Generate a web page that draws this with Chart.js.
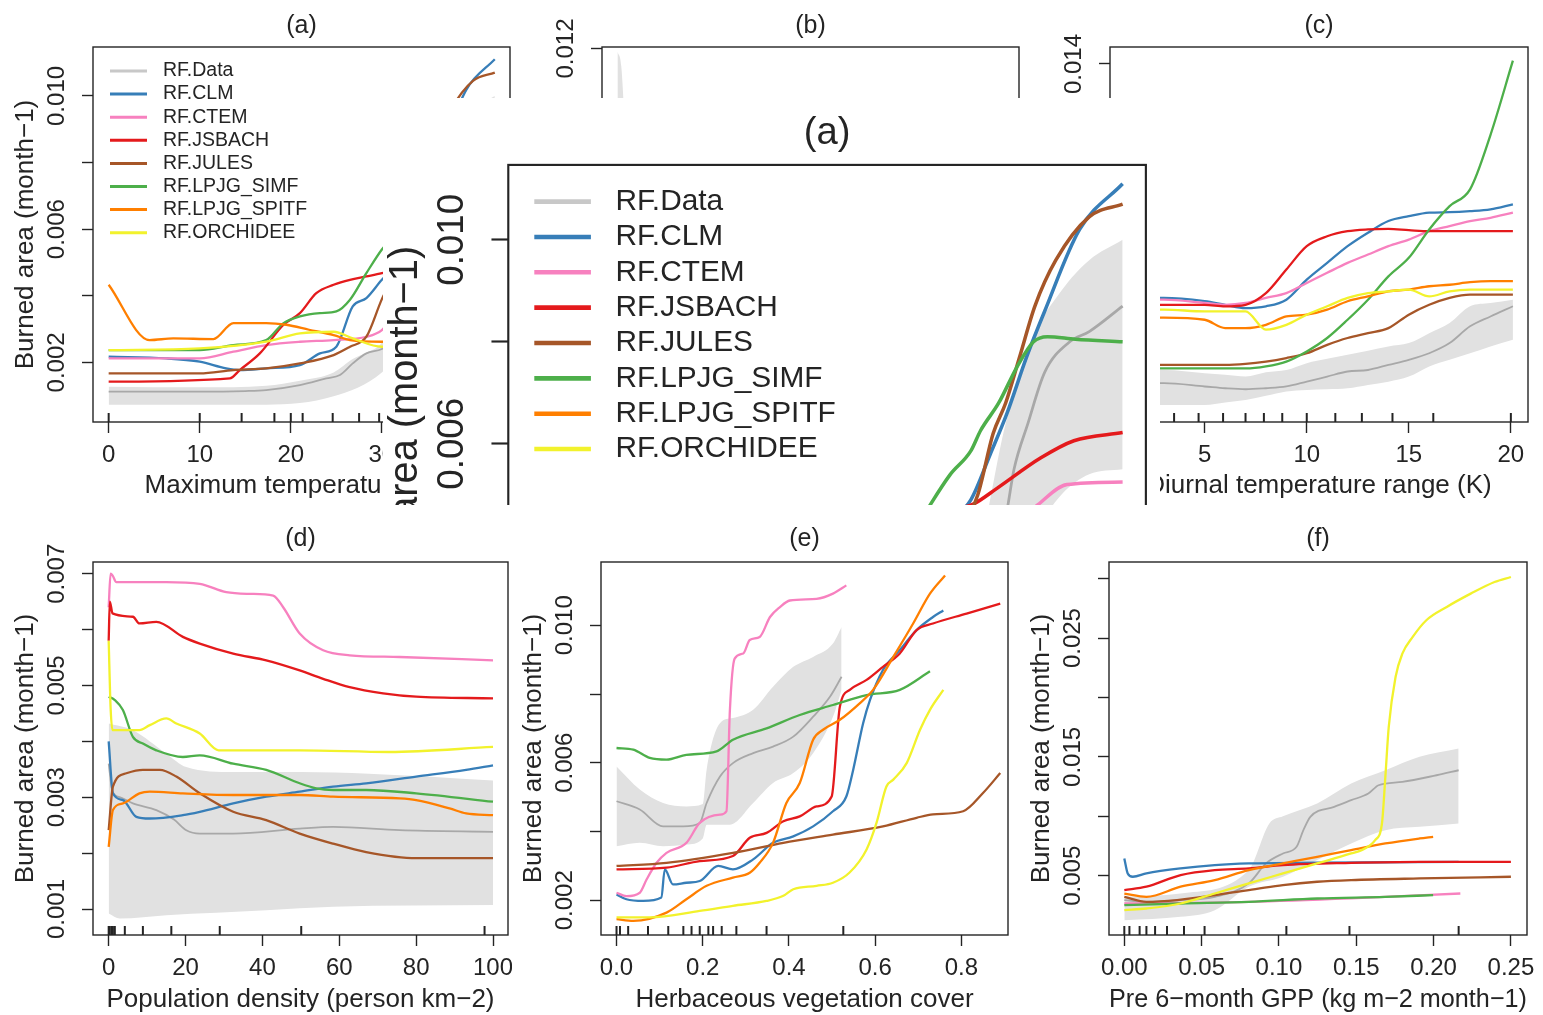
<!DOCTYPE html>
<html>
<head>
<meta charset="utf-8">
<title>Burned area partial dependence</title>
<script src="https://cdn.jsdelivr.net/npm/chart.js@4/dist/chart.umd.min.js"></script>
<style>
  html, body { margin: 0; padding: 0; background: #fff; overflow: hidden; }
  body { width: 1543px; height: 1015px; position: relative; }
  canvas { position: absolute; display: block; }
  #inset { position: absolute; left: 383px; top: 98px; width: 777px; height: 407px; overflow: hidden; background: #fff; }
</style>
</head>
<body>
<canvas id="pa" width="514" height="507" style="left:0px;top:0px"></canvas>
<canvas id="pb" width="514" height="507" style="left:509px;top:0px"></canvas>
<canvas id="pc" width="515" height="507" style="left:1017px;top:0px"></canvas>
<canvas id="pd" width="512" height="500" style="left:0px;top:515px"></canvas>
<canvas id="pe" width="504" height="500" style="left:508px;top:515px"></canvas>
<canvas id="pf" width="527" height="500" style="left:1016px;top:515px"></canvas>
<div id="inset"><canvas id="pz" width="786" height="776" style="left:-17px;top:-5px"></canvas></div>

<script>
// series names and colours, same order everywhere
const MODELS = ['RF.Data', 'RF.CLM', 'RF.CTEM', 'RF.JSBACH', 'RF.JULES', 'RF.LPJG_SIMF', 'RF.LPJG_SPITF', 'RF.ORCHIDEE'];
const COLORS = ['#a8a8a8', '#377eb8', '#f781bf', '#e41a1c', '#a65628', '#4daf4a', '#ff7f00', '#f2f22c'];
const LEGEND_COLORS = ['#c8c8c8', '#377eb8', '#f781bf', '#e41a1c', '#a65628', '#4daf4a', '#ff7f00', '#f2f22c'];
const BAND = '#e1e1e1';

// (a) maximum temperature  [x, burned area]
const aData     = [[0,0.00112],[10,0.00112],[15,0.00114],[17.3,0.00117],[21,0.00132],[23.9,0.00152],[25.4,0.00162],[26.8,0.00197],[28.3,0.00227],[30,0.0024],[32,0.0028],[33,0.0033],[34.1,0.0047],[34.6,0.0055],[35.6,0.0064],[36.8,0.0074],[38.6,0.008],[40,0.0082],[42.4,0.0087]];
const aBandHi   = [[0,0.00127],[10,0.00125],[17.3,0.0013],[21,0.00145],[24.7,0.0017],[26.8,0.0021],[28.3,0.0023],[30,0.0026],[32,0.0038],[34,0.0064],[35.8,0.008],[38,0.009],[40,0.0096],[42.4,0.01]];
const aBandLo   = [[0,0.00073],[17.3,0.00073],[24.7,0.00098],[30,0.0017],[34,0.003],[36,0.0042],[38,0.005],[40,0.0054],[42.4,0.0055]];
const aCLM      = [[0,0.00217],[6.3,0.00212],[10,0.00202],[12.9,0.00182],[14.4,0.00177],[17.3,0.00182],[21,0.00192],[23.2,0.00227],[25,0.00247],[26.8,0.00368],[28.3,0.00393],[30,0.00448],[31.5,0.0049],[32.9,0.0058],[34.1,0.0066],[35.5,0.0077],[36.8,0.0086],[39.3,0.0102],[42.4,0.0111]];
const aCTEM     = [[0,0.00212],[10,0.00212],[13.7,0.00232],[17.3,0.00252],[21,0.00262],[24.7,0.00267],[28.3,0.00277],[30,0.00297],[33,0.004],[36.3,0.0048],[38.4,0.0052],[42.4,0.00525]];
const aJSBACH   = [[0,0.00142],[13.3,0.00152],[14.4,0.00177],[16.6,0.00227],[19.2,0.00313],[21,0.00348],[22.8,0.00408],[24.7,0.00433],[26.5,0.00448],[28.3,0.00458],[30,0.00468],[31.7,0.00482],[33.4,0.00513],[36.5,0.00572],[38.9,0.00606],[42.4,0.00622]];
const aJULES    = [[0,0.00167],[10,0.00167],[13.7,0.00177],[17.3,0.00182],[21,0.00197],[24.7,0.00222],[26.5,0.00247],[28.3,0.00277],[30,0.0039],[32,0.005],[33.1,0.0062],[34,0.0068],[35,0.0077],[36.1,0.0087],[37.6,0.0096],[40,0.01045],[42.4,0.0107]];
const aSIMF     = [[0,0.00237],[10,0.00237],[13.7,0.00252],[17.3,0.00267],[19.2,0.00318],[21,0.00338],[23.2,0.00348],[25,0.00353],[26.5,0.00388],[28.3,0.00468],[30,0.00539],[31.5,0.00586],[32.2,0.00626],[33.5,0.0068],[34.8,0.0075],[36,0.008],[37,0.0081],[39,0.00805],[42.4,0.008]];
const aSPITF    = [[0,0.00433],[4.5,0.00267],[7.1,0.00272],[11.5,0.0027],[13.7,0.00318],[17.3,0.00318],[19.5,0.00313],[22,0.00298],[24.7,0.00282],[26.5,0.00267],[30,0.00262],[34,0.0027],[38,0.0029],[42.4,0.003]];
const aORCHIDEE = [[0,0.00237],[10,0.00242],[17.3,0.00262],[21,0.00287],[24.7,0.00292],[26.8,0.00272],[30,0.00247],[35,0.0026],[42.4,0.0028]];
const aRug      = [0, 10, 14.6, 18.2, 20, 21.3, 24.6, 27.5, 29.7, 31.5, 33.5, 36.5, 42.4];

// (b) almost entirely hidden under the zoomed copy of (a)
const bData   = [[0,0.0095],[0.2,0.0085],[0.5,0.006],[1,0.0042],[2,0.0035],[5,0.003],[10,0.0028],[20,0.0026]];
const bBandHi = [[0,0.0119],[0.2,0.0114],[0.5,0.008],[1,0.0055],[2,0.0045],[5,0.004],[10,0.0038],[20,0.0036]];
const bBandLo = [[0,0.0055],[0.5,0.004],[1,0.0028],[5,0.0018],[20,0.0015]];
const bRug    = [0, 0.2, 0.5, 1, 2, 3.5, 5, 8, 12, 20];

// (c) diurnal temperature range, common grid
const cDTR      = [1.1, 3, 5, 6, 7, 8, 9, 10, 11, 12, 13, 14, 15, 16, 17, 18, 19, 20.1];
const cData     = [0.00142, 0.00142, 0.00129, 0.00122, 0.00118, 0.00122, 0.00129, 0.00148, 0.00168, 0.00188, 0.00194, 0.00214, 0.00234, 0.0026, 0.003, 0.00366, 0.00405, 0.00445];
const cBandHi   = [0.00194, 0.00194, 0.00181, 0.00175, 0.00168, 0.00185, 0.00194, 0.00221, 0.00238, 0.00254, 0.0027, 0.00287, 0.003, 0.00339, 0.00379, 0.00445, 0.00458, 0.00471];
const cBandLo   = [0.00056, 0.00056, 0.00056, 0.00066, 0.00076, 0.00092, 0.00109, 0.00115, 0.00118, 0.00122, 0.00135, 0.00148, 0.00168, 0.00208, 0.00234, 0.0026, 0.00287, 0.00313];
const cCLM      = [0.00478, 0.00478, 0.00465, 0.00451, 0.00438, 0.00445, 0.00471, 0.0055, 0.00616, 0.00682, 0.00735, 0.00781, 0.008, 0.00814, 0.00816, 0.0082, 0.00827, 0.00847];
const cCTEM     = [0.00471, 0.00471, 0.00458, 0.00451, 0.00458, 0.00478, 0.00497, 0.00537, 0.00577, 0.00616, 0.00649, 0.00682, 0.00708, 0.00741, 0.00761, 0.00781, 0.00794, 0.00814];
const cJSBACH   = [0.00451, 0.00451, 0.00451, 0.00445, 0.00451, 0.00497, 0.0059, 0.00682, 0.00721, 0.00741, 0.00748, 0.0075, 0.00745, 0.00741, 0.00741, 0.00741, 0.00741, 0.00741];
const cJULES    = [0.00214, 0.00214, 0.00214, 0.00214, 0.00218, 0.00227, 0.00241, 0.0026, 0.00293, 0.0032, 0.00339, 0.00359, 0.00412, 0.00451, 0.00478, 0.00491, 0.00491, 0.00491];
const cSIMF     = [0.002, 0.002, 0.002, 0.002, 0.002, 0.00208, 0.00227, 0.00267, 0.0032, 0.00392, 0.00471, 0.00563, 0.00636, 0.00748, 0.0084, 0.00906, 0.0112, 0.01413];
const cSPITF    = [0.004, 0.004, 0.00392, 0.00359, 0.00359, 0.00372, 0.00405, 0.00412, 0.00432, 0.00465, 0.00484, 0.00504, 0.00511, 0.00524, 0.0053, 0.0054, 0.00544, 0.00544];
const cORCHIDEE = [0.00432, 0.00432, 0.00425, 0.00425, 0.00425, 0.00353, 0.00372, 0.00412, 0.00445, 0.00478, 0.00497, 0.00504, 0.00511, 0.00484, 0.00504, 0.00511, 0.00511, 0.00511];
const cRug      = [1.1, 2.3, 3.5, 4.7, 5.9, 7.0, 7.9, 8.8, 10.0, 11.4, 12.7, 14.2, 16.2, 20.0];

// (d) population density
const dData     = [[0,0.0036],[1,0.0031],[3,0.003],[6.3,0.00289],[12.4,0.00277],[17,0.0026],[20.2,0.00241],[23.7,0.00235],[32.4,0.00235],[49.7,0.00244],[58.4,0.00247],[75.7,0.00241],[100,0.00238]];
const dBandHi   = [[0,0.00432],[6.3,0.0042],[15,0.00378],[20.2,0.00354],[32.4,0.00345],[50,0.00345],[67.7,0.00342],[100,0.0033]];
const dBandLo   = [[0,0.00092],[2.9,0.00083],[15,0.00089],[41,0.00098],[58.4,0.00104],[100,0.00107]];
const dCLM      = [[0,0.004],[1.1,0.00307],[3.7,0.00295],[7.2,0.00265],[10.7,0.00262],[19.3,0.00268],[23.7,0.00274],[32.4,0.00289],[41,0.00301],[49.7,0.0031],[58.4,0.00319],[67,0.00325],[80,0.00337],[93,0.00349],[100,0.00357]];
const dCTEM     = [[0,0.0064],[0.5,0.007],[1,0.00697],[2,0.00685],[15,0.00685],[23.7,0.00682],[30.6,0.00667],[36.7,0.00664],[42.8,0.00661],[45.4,0.0064],[49.7,0.00593],[55.8,0.00563],[62.7,0.00554],[75.7,0.00551],[100,0.00545]];
const dJSBACH   = [[0,0.0058],[0.3,0.0065],[1,0.00629],[6.3,0.00623],[8,0.00611],[12.4,0.00614],[19.3,0.00587],[23.7,0.00575],[32.4,0.00557],[41,0.00545],[49.7,0.00527],[55.8,0.00512],[62.7,0.00497],[71.4,0.00486],[80,0.0048],[100,0.00477]];
const dJULES    = [[0,0.00241],[1.1,0.00319],[4.6,0.00343],[8.9,0.00349],[13.3,0.00349],[17.6,0.00337],[23.7,0.00307],[32.4,0.00274],[41,0.00259],[49.7,0.00235],[58.4,0.00217],[67,0.00202],[80,0.00191],[100,0.00191]];
const dSIMF     = [[0,0.0048],[1.6,0.00474],[3.7,0.00456],[6.3,0.00408],[8.9,0.00396],[12.4,0.00384],[19.3,0.00372],[23.7,0.00375],[32.4,0.0036],[41,0.00349],[49.7,0.00325],[54,0.00316],[58.4,0.00313],[67,0.00313],[80,0.00307],[100,0.00292]];
const dSPITF    = [[0,0.00211],[1.1,0.00277],[3.7,0.00289],[8,0.00307],[10.7,0.0031],[19.3,0.00307],[32.4,0.00304],[49.7,0.00304],[58.4,0.00301],[75.7,0.00298],[80,0.00295],[88.7,0.0028],[93,0.00271],[100,0.00268]];
const dORCHIDEE = [[0,0.0058],[0.5,0.0046],[1,0.0042],[3,0.0042],[8,0.0042],[10.7,0.00429],[15,0.00441],[17.6,0.00432],[23.7,0.00414],[28.6,0.00384],[32.4,0.00384],[49.7,0.00384],[73,0.00381],[100,0.0039]];
const dRug      = [0, 0.26, 0.7, 1.1, 1.6, 4.2, 8.9, 16.3, 28.9, 50.1, 97.8];

// (e) herbaceous vegetation cover
const eData     = [[0,0.00488],[0.054,0.00464],[0.108,0.00415],[0.155,0.00415],[0.193,0.00425],[0.209,0.00483],[0.24,0.0056],[0.27,0.00599],[0.317,0.00628],[0.363,0.00647],[0.41,0.00676],[0.456,0.00734],[0.495,0.00792],[0.522,0.0085]];
const eBandHi   = [[0,0.00589],[0.054,0.00522],[0.108,0.00483],[0.162,0.00473],[0.2,0.0048],[0.209,0.0058],[0.24,0.00715],[0.27,0.0073],[0.317,0.00754],[0.363,0.00821],[0.41,0.00879],[0.456,0.00908],[0.502,0.00947],[0.522,0.00995]];
const eBandLo   = [[0,0.00357],[0.054,0.00367],[0.108,0.00357],[0.162,0.00362],[0.2,0.0038],[0.209,0.0042],[0.263,0.0042],[0.317,0.00483],[0.363,0.00541],[0.41,0.0057],[0.456,0.00628],[0.502,0.00734],[0.522,0.00812]];
const eCLM      = [[0,0.00217],[0.023,0.00203],[0.062,0.00198],[0.104,0.00208],[0.112,0.0029],[0.131,0.00246],[0.162,0.00251],[0.193,0.00256],[0.236,0.003],[0.27,0.0029],[0.317,0.00319],[0.363,0.00367],[0.41,0.00386],[0.456,0.00415],[0.502,0.00459],[0.533,0.00502],[0.549,0.0058],[0.572,0.00715],[0.588,0.00783],[0.618,0.0087],[0.657,0.00928],[0.696,0.00986],[0.734,0.01024],[0.758,0.01043]];
const eCTEM     = [[0,0.00222],[0.023,0.00212],[0.054,0.00222],[0.07,0.00261],[0.093,0.00309],[0.116,0.00338],[0.162,0.00367],[0.193,0.00425],[0.24,0.00449],[0.255,0.00459],[0.263,0.00754],[0.274,0.00903],[0.294,0.00918],[0.309,0.00957],[0.332,0.00966],[0.356,0.01024],[0.379,0.01053],[0.402,0.01072],[0.464,0.01077],[0.502,0.01092],[0.533,0.01116]];
const eJSBACH   = [[0,0.0029],[0.116,0.00295],[0.193,0.00314],[0.27,0.00329],[0.309,0.00382],[0.348,0.00396],[0.387,0.0043],[0.425,0.00444],[0.464,0.00473],[0.499,0.00502],[0.518,0.00763],[0.541,0.00812],[0.58,0.00841],[0.618,0.00879],[0.657,0.00918],[0.696,0.00986],[0.734,0.01005],[0.812,0.01034],[0.89,0.01063]];
const eJULES    = [[0,0.003],[0.116,0.00309],[0.27,0.00338],[0.387,0.00367],[0.502,0.00391],[0.618,0.00415],[0.696,0.0044],[0.734,0.0045],[0.804,0.00459],[0.85,0.00512],[0.89,0.0057]];
const eSIMF     = [[0,0.00643],[0.039,0.00638],[0.077,0.00614],[0.116,0.00609],[0.162,0.00623],[0.232,0.00633],[0.27,0.00667],[0.348,0.007],[0.425,0.00739],[0.502,0.00768],[0.58,0.00797],[0.657,0.00812],[0.727,0.00866]];
const eSPITF    = [[0,0.00145],[0.039,0.0014],[0.116,0.00164],[0.162,0.00203],[0.209,0.00242],[0.27,0.00266],[0.309,0.0028],[0.332,0.00309],[0.363,0.00367],[0.394,0.00483],[0.425,0.00541],[0.456,0.00667],[0.479,0.00696],[0.518,0.00725],[0.564,0.00773],[0.595,0.00812],[0.642,0.00908],[0.688,0.01005],[0.727,0.01092],[0.762,0.01145]];
const eORCHIDEE = [[0,0.0015],[0.077,0.0015],[0.193,0.00169],[0.27,0.00184],[0.348,0.00198],[0.387,0.00213],[0.41,0.00232],[0.464,0.00242],[0.502,0.00251],[0.54,0.0028],[0.58,0.00348],[0.603,0.00425],[0.626,0.00531],[0.642,0.00551],[0.673,0.00599],[0.704,0.00696],[0.727,0.00754],[0.758,0.00812]];
const eRug      = [0, 0.008, 0.027, 0.073, 0.12, 0.155, 0.174, 0.193, 0.213, 0.224, 0.244, 0.278, 0.348, 0.526];

// (f) pre 6-month GPP
const fData     = [[0,0.00295],[0.0143,0.00281],[0.0364,0.00295],[0.0585,0.00323],[0.0805,0.00436],[0.0916,0.00604],[0.1026,0.00688],[0.1114,0.00744],[0.1158,0.00884],[0.1203,0.00996],[0.1357,0.0108],[0.1467,0.01136],[0.1578,0.01192],[0.1644,0.01262],[0.1798,0.0129],[0.2019,0.01346],[0.2162,0.01388]];
const fBandHi   = [[0,0.00323],[0.0364,0.00351],[0.0805,0.00548],[0.0938,0.0094],[0.1026,0.01],[0.1247,0.01108],[0.1467,0.01276],[0.1688,0.01388],[0.1909,0.01501],[0.2162,0.01571]];
const fBandLo   = [[0,0.00127],[0.0364,0.00155],[0.0585,0.00211],[0.0805,0.00408],[0.1026,0.00492],[0.1247,0.00632],[0.1467,0.00772],[0.1688,0.00884],[0.1909,0.00912],[0.2162,0.0094]];
const fCLM      = [[0,0.00646],[0.0022,0.0052],[0.0055,0.00492],[0.0143,0.0052],[0.0364,0.00562],[0.0585,0.0059],[0.0805,0.00604],[0.1247,0.0061],[0.2162,0.00618]];
const fCTEM     = [[0,0.00267],[0.0805,0.00281],[0.1467,0.0031],[0.2173,0.00351]];
const fJSBACH   = [[0,0.0038],[0.0143,0.00408],[0.0364,0.00506],[0.0585,0.00548],[0.0805,0.00562],[0.1026,0.0059],[0.1467,0.00609],[0.1909,0.00618],[0.25,0.00618]];
const fJULES    = [[0,0.00323],[0.0143,0.00281],[0.0805,0.0038],[0.1026,0.00422],[0.1247,0.0045],[0.1467,0.00464],[0.1909,0.00478],[0.25,0.00492]];
const fSIMF     = [[0,0.00253],[0.0364,0.00267],[0.0805,0.00281],[0.1247,0.00309],[0.1688,0.00323],[0.1997,0.00337]];
const fSPITF    = [[0,0.00351],[0.0143,0.00323],[0.0364,0.00408],[0.0585,0.00464],[0.0805,0.00548],[0.1026,0.00604],[0.1247,0.0066],[0.1467,0.00716],[0.1688,0.00772],[0.1909,0.00814],[0.1997,0.00828]];
const fORCHIDEE = [[0,0.00211],[0.0143,0.00225],[0.0364,0.00267],[0.0585,0.00351],[0.0805,0.00436],[0.1026,0.0052],[0.1247,0.00604],[0.1467,0.00688],[0.1534,0.00716],[0.1622,0.008],[0.1666,0.0094],[0.1688,0.01332],[0.171,0.01753],[0.1754,0.02173],[0.1798,0.02369],[0.1865,0.0251],[0.1953,0.0265],[0.2085,0.02762],[0.224,0.02874],[0.2394,0.02972],[0.25,0.03014]];
const fRug      = [0, 0.0033, 0.0099, 0.0143, 0.0199, 0.0276, 0.0386, 0.0519, 0.0739, 0.1048, 0.1456, 0.2162];

// tick labels that R actually prints (the others are skipped)
const aYLabels = ['0.002', '0.006', '0.010'];
const bYLabels = ['0.000', '0.004', '0.008', '0.012'];
const cYLabels = ['0.002', '0.006', '0.010', '0.014'];
const dYLabels = ['0.001', '0.003', '0.005', '0.007'];
const eYLabels = ['0.002', '0.006', '0.010'];
const fYLabels = ['0.005', '0.015', '0.025'];

const FONT = "'Liberation Sans', Arial, Helvetica, sans-serif";
const INK = '#242424';
const YTITLE = 'Burned area (month\u22121)';

function pts(list) { return list.map(([x, y]) => ({x, y})); }
function zip(xs, ys) { return xs.map((x, i) => [x, ys[i]]); }

// box, rug and (for panel a) the legend
const framePlugin = {
  id: 'frame',
  afterDatasetsDraw(chart, args, o) {
    const ctx = chart.ctx, a = chart.chartArea, k = o.k;
    const xs = chart.scales.x;
    ctx.save();
    ctx.strokeStyle = INK;
    ctx.lineWidth = 2 * k;
    o.rug.forEach(v => {
      const px = xs.getPixelForValue(v);
      if (px < a.left || px > a.right) return;
      ctx.beginPath();
      ctx.moveTo(px, a.bottom);
      ctx.lineTo(px, a.bottom - 9 * k);
      ctx.stroke();
    });
    ctx.lineWidth = 1.4 * k;
    ctx.strokeRect(a.left, a.top, a.right - a.left, a.bottom - a.top);
    if (o.legend) {
      ctx.font = (19.5 * k) + 'px ' + FONT;
      ctx.textBaseline = 'middle';
      ctx.textAlign = 'left';
      MODELS.forEach((name, i) => {
        const y = a.top + (24 + 23.1 * i) * k;
        ctx.strokeStyle = LEGEND_COLORS[i];
        ctx.lineWidth = 3 * k;
        ctx.beginPath();
        ctx.moveTo(a.left + 17 * k, y);
        ctx.lineTo(a.left + 54 * k, y);
        ctx.stroke();
        ctx.fillStyle = INK;
        ctx.fillText(name, a.left + 70 * k, y);
      });
    }
    ctx.restore();
  }
};

function makePanel(id, p, k) {
  const datasets = [];
  datasets.push({label: 'band', data: pts(p.bandHi), borderWidth: 0, pointRadius: 0,
    backgroundColor: BAND, fill: '+1', order: 30, cubicInterpolationMode: 'monotone'});
  datasets.push({label: 'band-lo', data: pts(p.bandLo), borderWidth: 0, pointRadius: 0,
    fill: false, order: 29, cubicInterpolationMode: 'monotone'});
  p.lines.forEach((line, i) => {
    if (!line) return;
    datasets.push({
      label: MODELS[i], data: pts(line),
      borderColor: COLORS[i], borderWidth: (i === 0 ? 1.8 : 2.3) * k,
      pointRadius: 0, fill: false, order: 20 - i,
      cubicInterpolationMode: 'monotone'
    });
  });
  const font = s => ({family: FONT, size: s * k, weight: 'normal'});
  const grid = {drawOnChartArea: false, drawTicks: true, tickLength: 11 * k,
    tickWidth: 1.4 * k, tickColor: INK, color: INK};
  const padR = (p.padR || 4) * k;

  return new Chart(document.getElementById(id), {
    type: 'line',
    data: {datasets},
    options: {
      responsive: false,
      animation: false,
      events: [],
      layout: {padding: {left: 0, top: 0, right: padR, bottom: 0}},
      plugins: {
        legend: {display: false},
        tooltip: {enabled: false},
        title: {display: true, text: p.title, fullSize: false, color: INK, font: font(25),
          padding: {top: p.tPad[0] * k, bottom: p.tPad[1] * k}},
        frame: {k, rug: p.rug, legend: !!p.legend}
      },
      scales: {
        x: {
          type: 'linear', min: p.xMin, max: p.xMax,
          ticks: {stepSize: p.xStep, includeBounds: false, autoSkip: false,
            minRotation: 0, maxRotation: 0, padding: 7.6 * k, color: INK, font: font(24),
            callback: v => v.toFixed(p.xDec)},
          grid: grid,
          border: {display: false},
          title: {display: true, text: p.xTitle, color: INK, font: font(26),
            padding: {top: 0, bottom: p.xtPad * k}},
          afterFit: s => { s.height = p.xh * k; s.paddingLeft = 0; s.paddingRight = 0; }
        },
        y: {
          type: 'linear', min: p.yMin, max: p.yMax,
          ticks: {stepSize: p.yStep, includeBounds: false, autoSkip: false,
            minRotation: 90, maxRotation: 90, crossAlign: 'center', padding: -5 * k,
            color: INK, font: font(24),
            callback: v => p.yLabels.includes(v.toFixed(3)) ? v.toFixed(3) : ''},
          grid: grid,
          border: {display: false},
          title: {display: true, text: YTITLE, color: INK, font: font(26),
            padding: {top: 10.4 * k, bottom: 0}},
          afterFit: s => { s.width = 93 * k; s.paddingTop = 0; s.paddingBottom = 0; }
        }
      }
    },
    plugins: [framePlugin]
  });
}

const top1 = {tPad: [11.5, 5.5], xh: 85, xtPad: 5.4};
const top2 = {tPad: [9, 8], xh: 80, xtPad: 0};

const panelA = Object.assign({
  title: '(a)', xTitle: 'Maximum temperature (\u00b0C)',
  xMin: -1.72, xMax: 44.07, xStep: 10, xDec: 0,
  yMin: 0.00021, yMax: 0.01147, yStep: 0.002, yLabels: aYLabels,
  bandHi: aBandHi, bandLo: aBandLo, rug: aRug, legend: true,
  lines: [aData, aCLM, aCTEM, aJSBACH, aJULES, aSIMF, aSPITF, aORCHIDEE]
}, top1);

makePanel('pa', panelA, 1);

makePanel('pb', Object.assign({
  title: '(b)', xTitle: 'Precipitation (mm day\u22121)',
  xMin: -0.8, xMax: 20.8, xStep: 5, xDec: 0,
  yMin: -0.0004, yMax: 0.01205, yStep: 0.002, yLabels: bYLabels,
  bandHi: bBandHi, bandLo: bBandLo, rug: bRug,
  lines: [bData]
}, top1), 1);

makePanel('pc', Object.assign({
  title: '(c)', xTitle: 'Diurnal temperature range (K)',
  xMin: 0.36, xMax: 20.84, xStep: 5, xDec: 0,
  yMin: -0.00011, yMax: 0.01467, yStep: 0.002, yLabels: cYLabels,
  bandHi: zip(cDTR, cBandHi), bandLo: zip(cDTR, cBandLo), rug: cRug,
  lines: [cData, cCLM, cCTEM, cJSBACH, cJULES, cSIMF, cSPITF, cORCHIDEE].map(s => zip(cDTR, s))
}, top1), 1);

makePanel('pd', Object.assign({
  title: '(d)', xTitle: 'Population density (person km\u22122)',
  xMin: -4.08, xMax: 103.9, xStep: 20, xDec: 0,
  yMin: 0.000535, yMax: 0.00721, yStep: 0.001, yLabels: dYLabels,
  bandHi: dBandHi, bandLo: dBandLo, rug: dRug,
  lines: [dData, dCLM, dCTEM, dJSBACH, dJULES, dSIMF, dSPITF, dORCHIDEE]
}, top2), 1);

makePanel('pe', Object.assign({
  title: '(e)', xTitle: 'Herbaceous vegetation cover',
  xMin: -0.036, xMax: 0.908, xStep: 0.2, xDec: 1,
  yMin: 0.00099, yMax: 0.01184, yStep: 0.002, yLabels: eYLabels,
  bandHi: eBandHi, bandLo: eBandLo, rug: eRug,
  lines: [eData, eCLM, eCTEM, eJSBACH, eJULES, eSIMF, eSPITF, eORCHIDEE]
}, top2), 1);

makePanel('pf', Object.assign({
  title: '(f)', xTitle: 'Pre 6\u2212month GPP (kg m\u22122 month\u22121)',
  xMin: -0.0099, xMax: 0.2604, xStep: 0.05, xDec: 2, padR: 16,
  yMin: 0.00002, yMax: 0.0314, yStep: 0.005, yLabels: fYLabels,
  bandHi: fBandHi, bandLo: fBandLo, rug: fRug,
  lines: [fData, fCLM, fCTEM, fJSBACH, fJULES, fSIMF, fSPITF, fORCHIDEE]
}, top2), 1);

// enlarged copy of (a) with its legend, pasted over the middle of the top row
makePanel('pz', panelA, 1.53);
</script>
</body>
</html>
